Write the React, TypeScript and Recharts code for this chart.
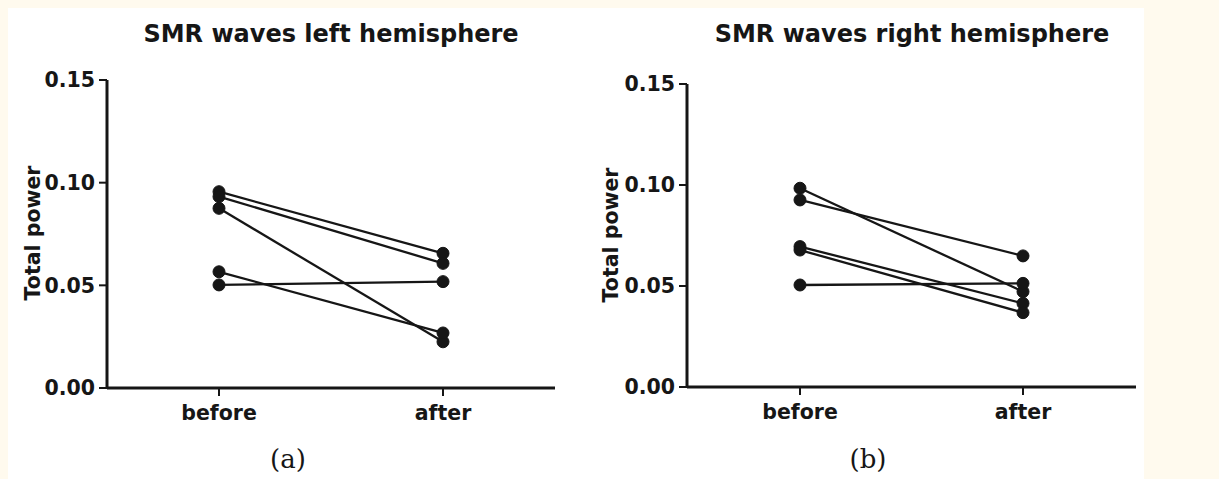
import { Line, LineChart, XAxis, YAxis } from "recharts";

const phases = ["before", "after"];
const yTicks = [0, 0.05, 0.1, 0.15];

// left hemisphere, one entry per subject
const leftBefore = [0.0956, 0.0932, 0.0875, 0.0566, 0.0502];
const leftAfter = [0.0656, 0.0607, 0.0225, 0.0268, 0.0518];

// right hemisphere
const rightBefore = [0.0984, 0.0926, 0.0695, 0.0678, 0.0505];
const rightAfter = [0.0472, 0.0649, 0.0414, 0.0368, 0.0513];

const ink = "#161616";
const font = "'DejaVu Sans', Arial, sans-serif";

function buildRows(before: number[], after: number[]) {
  return phases.map((phase, i) => {
    const row: Record<string, string | number> = { phase };
    const vals = i === 0 ? before : after;
    vals.forEach((v, k) => {
      row[`s${k}`] = v;
    });
    return row;
  });
}

type PanelProps = {
  before: number[];
  after: number[];
  left: number;
  margin: { top: number; right: number; left: number; bottom: number };
  pad: { left: number; right: number };
};

function Panel({ before, after, left, margin, pad }: PanelProps) {
  const rows = buildRows(before, after);
  const tickStyle = { fill: ink, fontSize: 20.5, fontWeight: 700, fontFamily: font };
  return (
    <div style={{ position: "absolute", left, top: 0 }}>
      <LineChart width={600} height={479} data={rows} margin={margin}>
        <XAxis
          dataKey="phase"
          padding={pad}
          height={30}
          tickSize={8}
          tickMargin={9}
          axisLine={{ stroke: ink, strokeWidth: 3 }}
          tickLine={{ stroke: ink, strokeWidth: 2 }}
          tick={tickStyle}
        />
        <YAxis
          domain={[0, 0.15]}
          ticks={yTicks}
          width={60}
          tickSize={8}
          tickMargin={4}
          tickFormatter={(v: number) => v.toFixed(2)}
          axisLine={{ stroke: ink, strokeWidth: 3 }}
          tickLine={{ stroke: ink, strokeWidth: 2 }}
          tick={tickStyle}
        />
        {before.map((_, k) => (
          <Line
            key={k}
            dataKey={`s${k}`}
            type="linear"
            stroke={ink}
            strokeWidth={2.3}
            dot={{ r: 6, fill: ink, stroke: ink, strokeWidth: 1 }}
            isAnimationActive={false}
          />
        ))}
      </LineChart>
    </div>
  );
}

export default function App() {
  return (
    <div
      style={{
        position: "fixed",
        left: 0,
        top: 0,
        width: 1219,
        height: 479,
        background: "#fffaee",
      }}
    >
      <div
        style={{
          position: "absolute",
          left: 8,
          top: 8,
          width: 1136,
          height: 471,
          background: "#ffffff",
        }}
      />
      <Panel
        before={leftBefore}
        after={leftAfter}
        left={0}
        margin={{ top: 80, right: 45, left: 47, bottom: 61 }}
        pad={{ left: 112, right: 112 }}
      />
      <Panel
        before={rightBefore}
        after={rightAfter}
        left={600}
        margin={{ top: 84, right: 64, left: 27, bottom: 62 }}
        pad={{ left: 113, right: 113 }}
      />
      <svg
        width={1219}
        height={479}
        style={{ position: "absolute", left: 0, top: 0, pointerEvents: "none" }}
      >
        <g fill={ink} fontFamily={font} fontWeight={700}>
          <text x={331} y={42} fontSize={24} textAnchor="middle">
            SMR waves left hemisphere
          </text>
          <text x={912} y={42} fontSize={24} textAnchor="middle">
            SMR waves right hemisphere
          </text>
          <text transform="translate(40,233) rotate(-90)" fontSize={20.5} textAnchor="middle">
            Total power
          </text>
          <text transform="translate(618,235) rotate(-90)" fontSize={20.5} textAnchor="middle">
            Total power
          </text>
        </g>
        <g fill={ink} fontFamily="'DejaVu Serif', 'Liberation Serif', serif" fontSize={26}>
          <text x={288} y={468} textAnchor="middle">
            (a)
          </text>
          <text x={868} y={468} textAnchor="middle">
            (b)
          </text>
        </g>
      </svg>
    </div>
  );
}
